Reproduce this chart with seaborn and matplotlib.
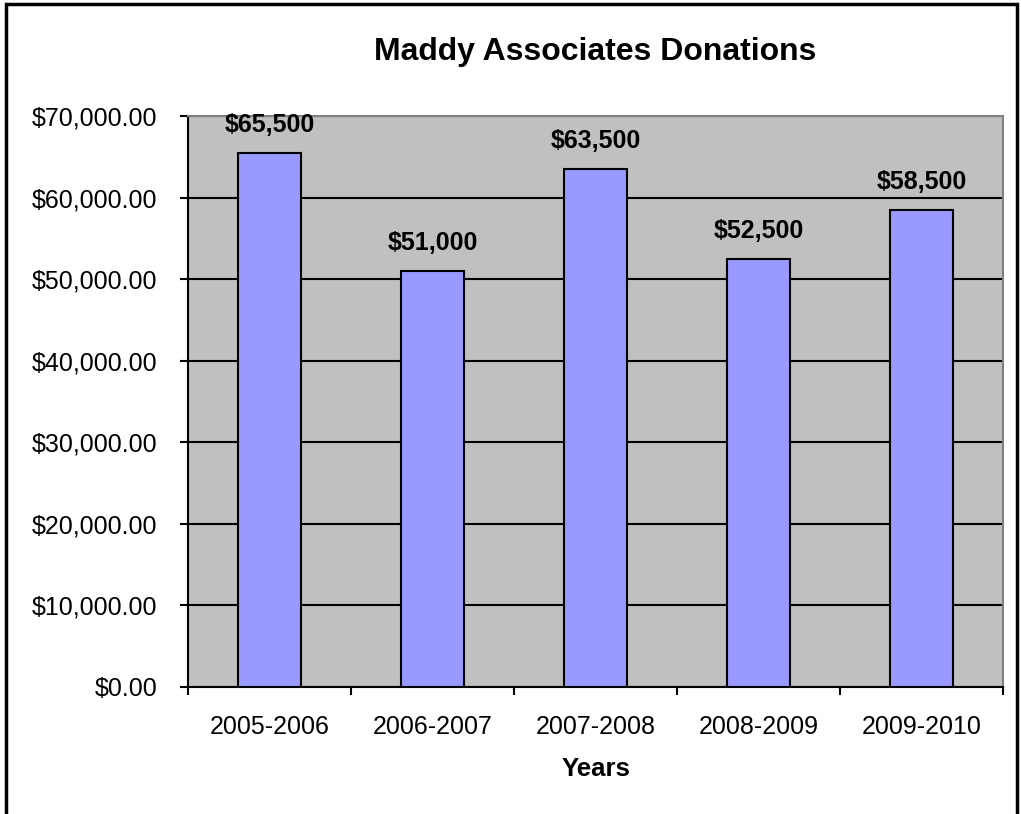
import matplotlib
matplotlib.use("Agg")
import matplotlib.pyplot as plt
import seaborn as sns
import pandas as pd
from matplotlib.patches import Rectangle
from matplotlib.ticker import FuncFormatter, FixedLocator, MultipleLocator

years = ["2005-2006", "2006-2007", "2007-2008", "2008-2009", "2009-2010"]
donations = [65500, 51000, 63500, 52500, 58500]
bar_labels = ["$65,500", "$51,000", "$63,500", "$52,500", "$58,500"]

df = pd.DataFrame({"Years": years, "Donations": donations})

sns.set_theme(style="white")
plt.rcParams["font.family"] = ["Liberation Sans", "DejaVu Sans"]

fig = plt.figure(figsize=(10.21, 8.14), dpi=100)
ax = fig.add_axes([188/1021, 1-687/814, (1003-188)/1021, (687-116)/814])
ax.set_facecolor("#C0C0C0")

sns.barplot(data=df, x="Years", y="Donations", ax=ax, color="#9999FF",
            width=0.39, edgecolor="black", linewidth=1.5, saturation=1, zorder=3)

ax.set_ylim(0, 70000)
ax.set_xlim(-0.5, len(years) - 0.5)
ax.yaxis.set_major_locator(MultipleLocator(10000))
ax.yaxis.set_major_formatter(FuncFormatter(lambda v, p: f"${v:,.2f}"))
ax.grid(axis="y", color="black", linewidth=1.5, zorder=1)
ax.set_axisbelow(True)

for i, (v, lab) in enumerate(zip(donations, bar_labels)):
    ax.annotate(lab, (i, v), xytext=(0, 20), textcoords="offset points",
                ha="center", va="center", fontsize=18, fontweight="bold", color="black")

# ticks
ax.tick_params(axis="y", which="major", length=6, width=1.5, direction="out",
               left=True, labelsize=18, pad=16, color="black", labelcolor="black")
ax.tick_params(axis="x", which="major", length=0, labelsize=18, pad=20, labelcolor="black")
ax.xaxis.set_minor_locator(FixedLocator([i - 0.5 for i in range(len(years) + 1)]))
ax.tick_params(axis="x", which="minor", length=6, width=1.5, direction="out",
               bottom=True, color="black")

ax.set_xlabel("Years", fontsize=18.5, fontweight="bold", labelpad=13, color="black")
ax.set_ylabel("")
ax.set_title("Maddy Associates Donations", fontsize=23, fontweight="bold", pad=40, color="black")

for s in ["left", "bottom"]:
    ax.spines[s].set_color("black")
    ax.spines[s].set_linewidth(1.5)
for s in ["top", "right"]:
    ax.spines[s].set_color("#808080")
    ax.spines[s].set_linewidth(1.5)
    ax.spines[s].set_visible(True)

fig.patches.append(Rectangle((6/1021, -0.05), (1017-6)/1021, 1.05 - 4/814,
                             transform=fig.transFigure, fill=False,
                             edgecolor="black", linewidth=2.5))

fig.savefig("out.png", dpi=100)
